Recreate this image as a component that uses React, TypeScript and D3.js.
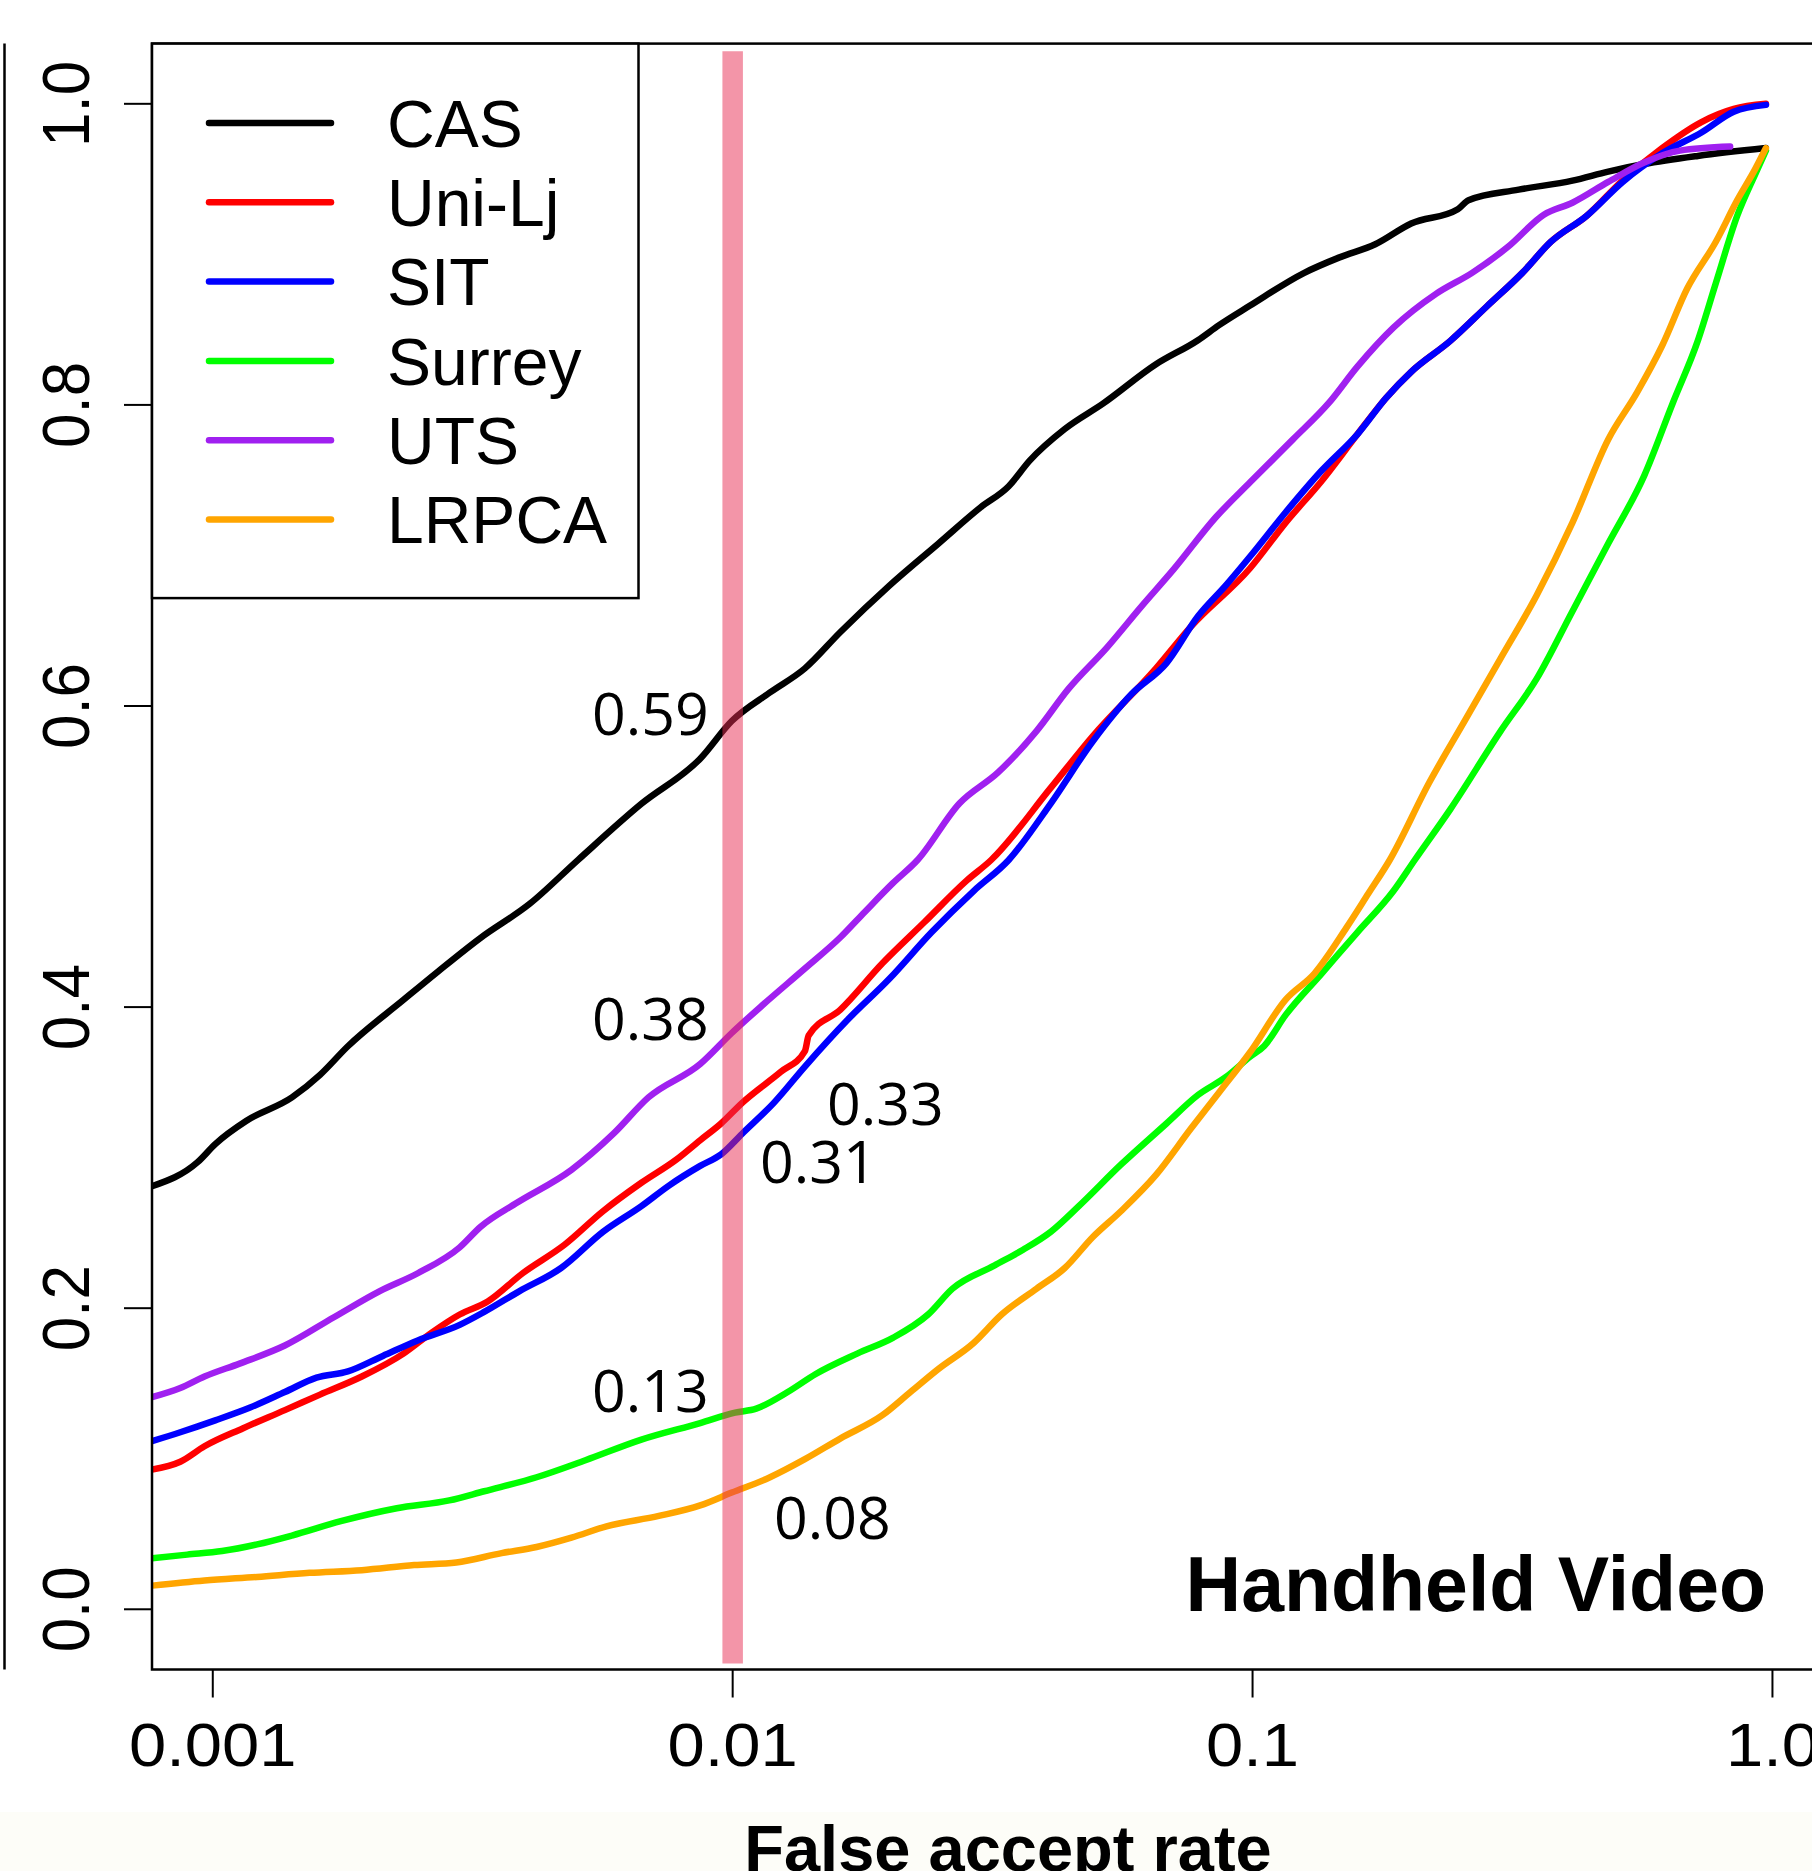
import React, { useEffect } from "react";
import * as d3 from "d3";

type Pt = [number, number];

const seriesNames = ["CAS", "Uni-Lj", "SIT", "Surrey", "UTS", "LRPCA"];
const seriesColors = ["#000000", "#ff0000", "#0000ff", "#00ff00", "#a020f0", "#ffa500"];

const casData: Pt[] = [
  [0.000764, 0.281], [0.000935, 0.297], [0.001011, 0.309], [0.001161, 0.3245], [0.00142, 0.34],
  [0.001608, 0.355], [0.001819, 0.374], [0.002331, 0.405], [0.00272, 0.424], [0.003275, 0.446],
  [0.00407, 0.4686], [0.00505, 0.498], [0.006675, 0.535], [0.00866, 0.565], [0.00996, 0.59],
  [0.0118, 0.609], [0.01377, 0.625], [0.0161, 0.649], [0.02002, 0.68], [0.02489, 0.708],
  [0.03, 0.732], [0.03396, 0.746], [0.03726, 0.763], [0.04353, 0.784], [0.05163, 0.801],
  [0.0652, 0.827], [0.07852, 0.843], [0.0862, 0.853], [0.0989, 0.866], [0.1255, 0.8876],
  [0.147, 0.898], [0.1722, 0.9067], [0.2019, 0.9205], [0.2482, 0.93], [0.2602, 0.936],
  [0.325, 0.943], [0.4124, 0.949], [0.4832, 0.955], [0.5665, 0.96], [0.7186, 0.9654], [0.971, 0.9706],
];

const uniLjData: Pt[] = [
  [0.000764, 0.0929], [0.000866, 0.098], [0.000964, 0.1083], [0.001144, 0.1203], [0.001376, 0.1323],
  [0.001608, 0.1426], [0.001935, 0.1546], [0.002331, 0.17], [0.002637, 0.1838], [0.002985, 0.1958],
  [0.003379, 0.2044], [0.003945, 0.2232], [0.004748, 0.2421], [0.00563, 0.2644], [0.006675, 0.2833],
  [0.00779, 0.2987], [0.00866, 0.3116], [0.0095, 0.3227], [0.01043, 0.3364], [0.01238, 0.357],
  [0.01377, 0.3708], [0.014, 0.3811], [0.0161, 0.3982], [0.01941, 0.4291], [0.02339, 0.4565],
  [0.02818, 0.484], [0.03142, 0.4977], [0.0409, 0.5456], [0.04929, 0.58], [0.0652, 0.625],
  [0.07612, 0.6527], [0.0989, 0.6915], [0.1158, 0.7218], [0.1358, 0.7495], [0.1591, 0.7805],
  [0.1807, 0.8047], [0.2019, 0.822], [0.2404, 0.8427], [0.2818, 0.8652], [0.3303, 0.8877],
  [0.375, 0.9084], [0.4395, 0.9257], [0.5151, 0.9492], [0.6134, 0.9706], [0.7302, 0.9879],
  [0.8425, 0.9966], [0.9716, 1.0],
];

const sitData: Pt[] = [
  [0.000764, 0.1117], [0.000866, 0.1176], [0.001011, 0.1255], [0.00118, 0.134], [0.001376, 0.1443],
  [0.001583, 0.1539], [0.001819, 0.158], [0.002124, 0.1683], [0.002479, 0.1786], [0.002985, 0.1889],
  [0.003327, 0.1975], [0.003884, 0.2112], [0.004677, 0.2267], [0.00563, 0.2507], [0.006675, 0.2678],
  [0.007553, 0.2816], [0.00866, 0.2945], [0.0095, 0.3022], [0.01043, 0.3159], [0.012, 0.3364],
  [0.01377, 0.3605], [0.01662, 0.3914], [0.02002, 0.4188], [0.02413, 0.4497], [0.02907, 0.4771],
  [0.03396, 0.4977], [0.0409, 0.5352], [0.04929, 0.5766], [0.05846, 0.6078], [0.06831, 0.6285],
  [0.07852, 0.6596], [0.08892, 0.6803], [0.0989, 0.6993], [0.1158, 0.7287], [0.1358, 0.7564],
  [0.1591, 0.7805], [0.1807, 0.8047], [0.2019, 0.822], [0.2404, 0.8427], [0.2818, 0.8652],
  [0.3303, 0.8877], [0.375, 0.9084], [0.4395, 0.9257], [0.5151, 0.9481], [0.6134, 0.9671],
  [0.7302, 0.981], [0.8425, 0.9948], [0.9716, 0.9993],
];

const surreyData: Pt[] = [
  [0.000764, 0.0339], [0.000893, 0.0363], [0.001042, 0.0387], [0.001217, 0.0431], [0.00142, 0.049],
  [0.001763, 0.0585], [0.002259, 0.0671], [0.00285, 0.0723], [0.003327, 0.0784], [0.004196, 0.0877],
  [0.00521, 0.099], [0.006675, 0.1127], [0.00866, 0.1237], [0.01011, 0.1306], [0.0111, 0.1333],
  [0.01276, 0.1443], [0.01445, 0.1563], [0.0174, 0.17], [0.02033, 0.1803], [0.02376, 0.1958],
  [0.02648, 0.213], [0.03191, 0.2284], [0.03613, 0.2387], [0.0409, 0.2507], [0.04632, 0.2678],
  [0.05581, 0.2953], [0.06831, 0.3227], [0.07852, 0.3416], [0.08892, 0.3536], [0.0989, 0.367],
  [0.1053, 0.3742], [0.1158, 0.3948], [0.1358, 0.4223], [0.1591, 0.4497], [0.1866, 0.4771],
  [0.2051, 0.4977], [0.2404, 0.5317], [0.3002, 0.5835], [0.3518, 0.618], [0.4124, 0.663],
  [0.4832, 0.7079], [0.5665, 0.7529], [0.6432, 0.8013], [0.7186, 0.8427], [0.7781, 0.8808],
  [0.8557, 0.9257], [0.9267, 0.9533], [0.9716, 0.9689],
];

const utsData: Pt[] = [
  [0.000764, 0.1409], [0.000866, 0.147], [0.000964, 0.1546], [0.001126, 0.1632], [0.001376, 0.1752],
  [0.00171, 0.194], [0.002091, 0.2112], [0.002479, 0.2232], [0.002985, 0.2404], [0.003275, 0.2541],
  [0.003824, 0.2695], [0.004897, 0.2919], [0.005899, 0.3159], [0.006886, 0.34], [0.00866, 0.3622],
  [0.00996, 0.3828], [0.01145, 0.4017], [0.01377, 0.4256], [0.0161, 0.4462], [0.01797, 0.4634],
  [0.02033, 0.4823], [0.02268, 0.4977], [0.02732, 0.5354], [0.0324, 0.5559], [0.03844, 0.5835],
  [0.04421, 0.6112], [0.05246, 0.6388], [0.06126, 0.6665], [0.07048, 0.6907], [0.08489, 0.7252],
  [0.0989, 0.7486], [0.1196, 0.7771], [0.1402, 0.8013], [0.1591, 0.8254], [0.1866, 0.8513],
  [0.2257, 0.8739], [0.2644, 0.8877], [0.31, 0.905], [0.3633, 0.9263], [0.4124, 0.9343],
  [0.4832, 0.9481], [0.5665, 0.961], [0.6638, 0.9689], [0.8291, 0.9716],
];

const lrpcaData: Pt[] = [
  [0.000764, 0.0157], [0.000964, 0.0191], [0.001217, 0.0215], [0.001535, 0.0242], [0.001935, 0.026],
  [0.00244, 0.0294], [0.00294, 0.0311], [0.003594, 0.0373], [0.004196, 0.0414], [0.004897, 0.0476],
  [0.005719, 0.0551], [0.00721, 0.062], [0.00866, 0.069], [0.00996, 0.0775], [0.0118, 0.0877],
  [0.01377, 0.0997], [0.0161, 0.1134], [0.01941, 0.1289], [0.02198, 0.1443], [0.02489, 0.1597],
  [0.02907, 0.1769], [0.03291, 0.1958], [0.03844, 0.213], [0.04353, 0.2267], [0.04929, 0.2473],
  [0.05581, 0.2644], [0.0652, 0.2885], [0.07612, 0.3193], [0.0862, 0.3433], [0.0989, 0.37],
  [0.1158, 0.405], [0.1315, 0.4223], [0.1518, 0.4531], [0.167, 0.4754], [0.1836, 0.4977],
  [0.2186, 0.549], [0.2562, 0.5904], [0.3002, 0.6318], [0.3518, 0.6734], [0.4124, 0.7218],
  [0.4832, 0.7771], [0.5488, 0.8082], [0.6134, 0.8393], [0.6855, 0.8773], [0.7783, 0.9084],
  [0.8557, 0.936], [0.9267, 0.9568], [0.9716, 0.9706],
];

const seriesData: Pt[][] = [casData, uniLjData, sitData, surreyData, utsData, lrpcaData];

const xTicks = [0.001, 0.01, 0.1, 1.0];
const xTickLabels = ["0.001", "0.01", "0.1", "1.0"];
const yTicks = [0, 0.2, 0.4, 0.6, 0.8, 1.0];
const yTickLabels = ["0.0", "0.2", "0.4", "0.6", "0.8", "1.0"];

const markerFar = 0.01;
const annotationTexts = ["0.59", "0.38", "0.13", "0.33", "0.31", "0.08"];
const annotationFar = [0.005365, 0.005365, 0.005365, 0.01518, 0.01129, 0.01201];
const annotationTar = [0.5807, 0.3783, 0.1313, 0.322, 0.283, 0.0466];

const panelTitle = "Handheld Video";
const xAxisTitle = "False accept rate";

const W = 1812;
const H = 1871;
const HELV = "'Liberation Sans', Arial, Helvetica, sans-serif";

export default function App() {
  useEffect(() => {
    document.body.style.margin = "0";
    document.body.style.overflow = "hidden";
  }, []);

  const x = d3.scaleLog().domain([0.000764, 1.5]).range([152, 1864]);
  const y = d3.scaleLinear().domain([-0.04, 1.04]).range([1669.5, 43.6]);

  const line = d3
    .line<Pt>()
    .x((d) => x(d[0]))
    .y((d) => y(d[1]))
    .curve(d3.curveMonotoneX);

  const left = x.range()[0];
  const right = x.range()[1];
  const top = y.range()[1];
  const bottom = y.range()[0];

  const legendX0 = left;
  const legendY0 = top;
  const legendW = 486.5;
  const legendH = 554.5;
  const legendRow0 = 123;
  const legendStep = 79.3;

  return (
    <svg
      width={W}
      height={H}
      style={{ position: "absolute", left: 0, top: 0, display: "block" }}
      xmlns="http://www.w3.org/2000/svg"
    >
      <defs>
        <clipPath id="plotClip">
          <rect x={left} y={top} width={right - left} height={bottom - top} />
        </clipPath>
      </defs>
      <rect x={0} y={0} width={W} height={H} fill="#ffffff" />
      <rect x={0} y={1812} width={W} height={H - 1812} fill="#fdfdf8" />

      {/* neighbouring panel edge */}
      <line x1={4.5} x2={4.5} y1={top} y2={bottom} stroke="#000" strokeWidth={2.5} />

      {/* curves */}
      <g clipPath="url(#plotClip)">
        {seriesData.map((d, i) => (
          <path
            key={seriesNames[i]}
            d={line(d) || ""}
            fill="none"
            stroke={seriesColors[i]}
            strokeWidth={6.5}
            strokeLinejoin="round"
            strokeLinecap="round"
          />
        ))}
        {/* FAR = 0.01 marker band */}
        <line
          x1={x(markerFar)}
          x2={x(markerFar)}
          y1={y(1.035)}
          y2={y(-0.036)}
          stroke="rgb(232,44,82)"
          strokeOpacity={0.5}
          strokeWidth={20.5}
        />
      </g>

      {/* plot box */}
      <rect
        x={left}
        y={top}
        width={right - left}
        height={bottom - top}
        fill="none"
        stroke="#000"
        strokeWidth={2.5}
      />

      {/* y axis */}
      {yTicks.map((t, i) => (
        <g key={"y" + i}>
          <line x1={left - 28} x2={left} y1={y(t)} y2={y(t)} stroke="#000" strokeWidth={2} />
          <text
            transform={`translate(89,${y(t)}) scale(1.08,1) rotate(-90)`}
            textAnchor="middle"
            fontFamily={HELV}
            fontSize={62}
            fill="#000"
          >
            {yTickLabels[i]}
          </text>
        </g>
      ))}

      {/* x axis */}
      {xTicks.map((t, i) => (
        <g key={"x" + i}>
          <line x1={x(t)} x2={x(t)} y1={bottom} y2={bottom + 28} stroke="#000" strokeWidth={2} />
          <text
            transform={`translate(${x(t)},1766) scale(1.08,1)`}
            textAnchor="middle"
            fontFamily={HELV}
            fontSize={62}
            fill="#000"
          >
            {xTickLabels[i]}
          </text>
        </g>
      ))}

      {/* legend */}
      <rect
        x={legendX0}
        y={legendY0}
        width={legendW}
        height={legendH}
        fill="#fff"
        stroke="#000"
        strokeWidth={2.5}
      />
      {seriesNames.map((name, i) => {
        const yy = legendRow0 + i * legendStep;
        return (
          <g key={"leg" + name}>
            <line
              x1={209}
              x2={331}
              y1={yy}
              y2={yy}
              stroke={seriesColors[i]}
              strokeWidth={6.5}
              strokeLinecap="round"
            />
            <text x={387} y={yy + 23.7} fontFamily={HELV} fontSize={66} fill="#000">
              {name}
            </text>
          </g>
        );
      })}

      {/* annotations */}
      {annotationTexts.map((t, i) => (
        <text
          key={"a" + i}
          x={x(annotationFar[i])}
          y={y(annotationTar[i])}
          fontFamily="'Open Sans', 'Noto Sans', sans-serif"
          fontSize={59}
          fill="#000"
        >
          {t}
        </text>
      ))}

      {/* panel title */}
      <text
        x={1766}
        y={1611}
        textAnchor="end"
        fontFamily={HELV}
        fontWeight="bold"
        fontSize={77}
        fill="#000"
      >
        {panelTitle}
      </text>

      {/* x axis title */}
      <text
        x={1008}
        y={1871}
        textAnchor="middle"
        fontFamily={HELV}
        fontWeight="bold"
        fontSize={65}
        fill="#000"
      >
        {xAxisTitle}
      </text>
    </svg>
  );
}
